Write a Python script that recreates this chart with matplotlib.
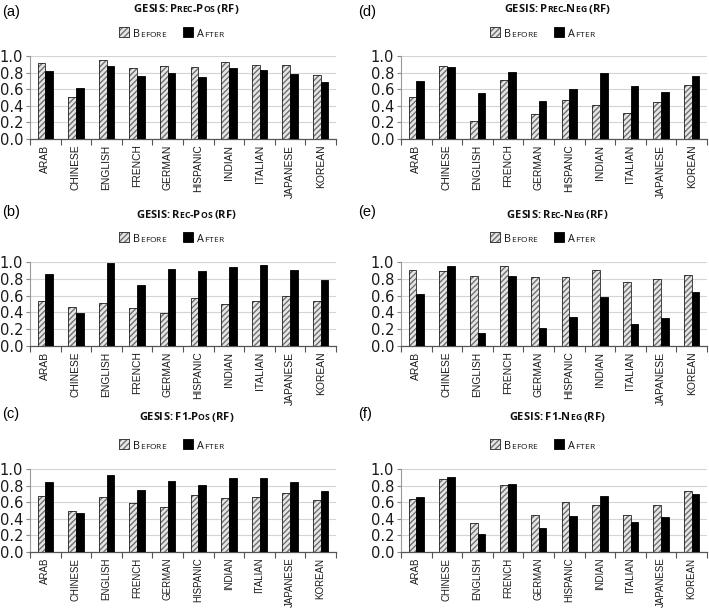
import matplotlib

matplotlib.use("Agg")
import matplotlib.pyplot as plt
import numpy as np
from matplotlib.offsetbox import AnchoredOffsetbox, DrawingArea, HPacker, TextArea
from matplotlib.patches import Rectangle

groups = ["ARAB", "CHINESE", "ENGLISH", "FRENCH", "GERMAN",
          "HISPANIC", "INDIAN", "ITALIAN", "JAPANESE", "KOREAN"]

prec_pos_before = [0.92, 0.51, 0.95, 0.86, 0.88, 0.87, 0.93, 0.89, 0.89, 0.77]
prec_pos_after = [0.82, 0.61, 0.88, 0.76, 0.80, 0.75, 0.86, 0.83, 0.78, 0.69]
rec_pos_before = [0.53, 0.47, 0.51, 0.45, 0.39, 0.57, 0.50, 0.53, 0.59, 0.54]
rec_pos_after = [0.86, 0.39, 0.99, 0.73, 0.92, 0.89, 0.94, 0.96, 0.91, 0.79]
f1_pos_before = [0.67, 0.49, 0.66, 0.59, 0.54, 0.69, 0.65, 0.66, 0.71, 0.63]
f1_pos_after = [0.84, 0.47, 0.93, 0.75, 0.85, 0.81, 0.89, 0.89, 0.84, 0.73]
prec_neg_before = [0.50, 0.88, 0.22, 0.71, 0.30, 0.47, 0.41, 0.31, 0.44, 0.65]
prec_neg_after = [0.70, 0.87, 0.55, 0.81, 0.46, 0.60, 0.79, 0.64, 0.57, 0.76]
rec_neg_before = [0.90, 0.89, 0.83, 0.95, 0.82, 0.82, 0.90, 0.76, 0.80, 0.84]
rec_neg_after = [0.62, 0.95, 0.15, 0.83, 0.21, 0.34, 0.58, 0.26, 0.33, 0.64]
f1_neg_before = [0.64, 0.88, 0.35, 0.81, 0.44, 0.60, 0.57, 0.44, 0.57, 0.73]
f1_neg_after = [0.66, 0.90, 0.22, 0.82, 0.29, 0.43, 0.67, 0.36, 0.42, 0.70]

# (label, title, before, after, column, row)
panels = [
    ("(a)", "GESIS: Prec-Pos (RF)", prec_pos_before, prec_pos_after, 0, 0),
    ("(b)", "GESIS: Rec-Pos (RF)", rec_pos_before, rec_pos_after, 0, 1),
    ("(c)", "GESIS: F1-Pos (RF)", f1_pos_before, f1_pos_after, 0, 2),
    ("(d)", "GESIS: Prec-Neg (RF)", prec_neg_before, prec_neg_after, 1, 0),
    ("(e)", "GESIS: Rec-Neg (RF)", rec_neg_before, rec_neg_after, 1, 1),
    ("(f)", "GESIS: F1-Neg (RF)", f1_neg_before, f1_neg_after, 1, 2),
]

W, H = 709, 608
col_left = [30, 401]
ax_w = 306
# axes top / bottom in pixels, panel label y, title y, legend y
rows = [(56, 139, 12, 10, 33), (262, 346, 212, 215, 238), (469, 552, 414, 418, 445)]

TXT = "Open Sans"
HATCH_FACE = "#e6e6e6"
HATCH_COL = "#707070"


def smallcaps(text, big, small, weight="normal"):
    """Fake small caps: each letter its own box, lower-case ones smaller."""
    boxes = []
    for ch in text:
        size = small if ch.islower() else big
        boxes.append(TextArea(ch.upper() if ch != " " else "\u2009",
                              textprops=dict(size=size, weight=weight,
                                             family=TXT, color="#111111")))
    return boxes


def place(fig, box, x, y):
    anchored = AnchoredOffsetbox(loc="center", child=box, pad=0, borderpad=0,
                                 frameon=False, bbox_to_anchor=(x / W, 1 - y / H),
                                 bbox_transform=fig.transFigure)
    fig.add_artist(anchored)


def swatch(face, hatch=None):
    da = DrawingArea(7, 7, 0, 0)
    da.add_artist(Rectangle((0, 0), 7, 7, facecolor=face, hatch=hatch,
                            edgecolor=HATCH_COL if hatch else "black", linewidth=0.6))
    if hatch:
        da.add_artist(Rectangle((0, 0), 7, 7, fill=False, edgecolor="#333333", linewidth=0.6))
    return da


fig = plt.figure(figsize=(W / 100, H / 100), dpi=100)
x = np.arange(len(groups))
bw = 0.25

for label, title, before, after, col, row in panels:
    top, bot, lab_y, title_y, leg_y = rows[row]
    left = col_left[col]
    ax = fig.add_axes([left / W, (H - bot) / H, ax_w / W, (bot - top) / H])

    ax.bar(x - bw / 2, before, bw, facecolor=HATCH_FACE, hatch="//////",
           edgecolor=HATCH_COL, linewidth=0, zorder=2)
    ax.bar(x - bw / 2, before, bw, fill=False, edgecolor="#222222", linewidth=0.6, zorder=3)
    ax.bar(x + bw / 2, after, bw, color="black", edgecolor="black", linewidth=0.6, zorder=3)

    ax.set_xlim(-0.5, len(groups) - 0.5)
    ax.set_ylim(0, 1.0)
    ax.set_yticks(np.arange(0, 1.01, 0.2))
    ax.set_yticklabels([f"{v:.1f}" for v in np.arange(0, 1.01, 0.2)],
                       family="DejaVu Sans", fontsize=10.5, color="#1a1a1a")
    ax.set_xticks(x)
    ax.set_xticklabels(groups, rotation=90, family="Liberation Sans",
                       fontsize=7.4 if row < 2 else 7.0, color="#1a1a1a")
    ax.set_xticks(np.arange(-0.5, len(groups)), minor=True)
    ax.tick_params(axis="x", which="major", length=0, pad=4)
    ax.tick_params(axis="x", which="minor", length=4, width=0.8, color="#555555")
    ax.tick_params(axis="y", length=3, width=0.8, color="#888888", pad=2)
    ax.yaxis.grid(True, color="#d4d4d4", linewidth=0.8, zorder=0)
    ax.set_axisbelow(True)
    for side in ("top", "right"):
        ax.spines[side].set_visible(False)
    ax.spines["left"].set_color("#999999")
    ax.spines["left"].set_linewidth(0.8)
    ax.spines["bottom"].set_color("#555555")
    ax.spines["bottom"].set_linewidth(0.9)

    fig.text((2 if col == 0 else 358) / W, 1 - lab_y / H, label,
             family="Liberation Sans", fontsize=10.5, va="center", ha="left")

    title_box = HPacker(children=smallcaps(title, 8.0, 6.2, "bold"),
                        align="baseline", pad=0, sep=0)
    place(fig, title_box, left + ax_w / 2 + 3, title_y)

    leg_items = ([swatch(HATCH_FACE, "//////"), TextArea(" ")] + smallcaps("Before", 7.8, 6.0)
                 + [TextArea("    "), swatch("black"), TextArea(" ")] + smallcaps("After", 7.8, 6.0))
    leg_box = HPacker(children=leg_items, align="baseline", pad=0, sep=0)
    place(fig, leg_box, left + ax_w / 2 - 12, leg_y)

fig.savefig("out.png", dpi=100)
